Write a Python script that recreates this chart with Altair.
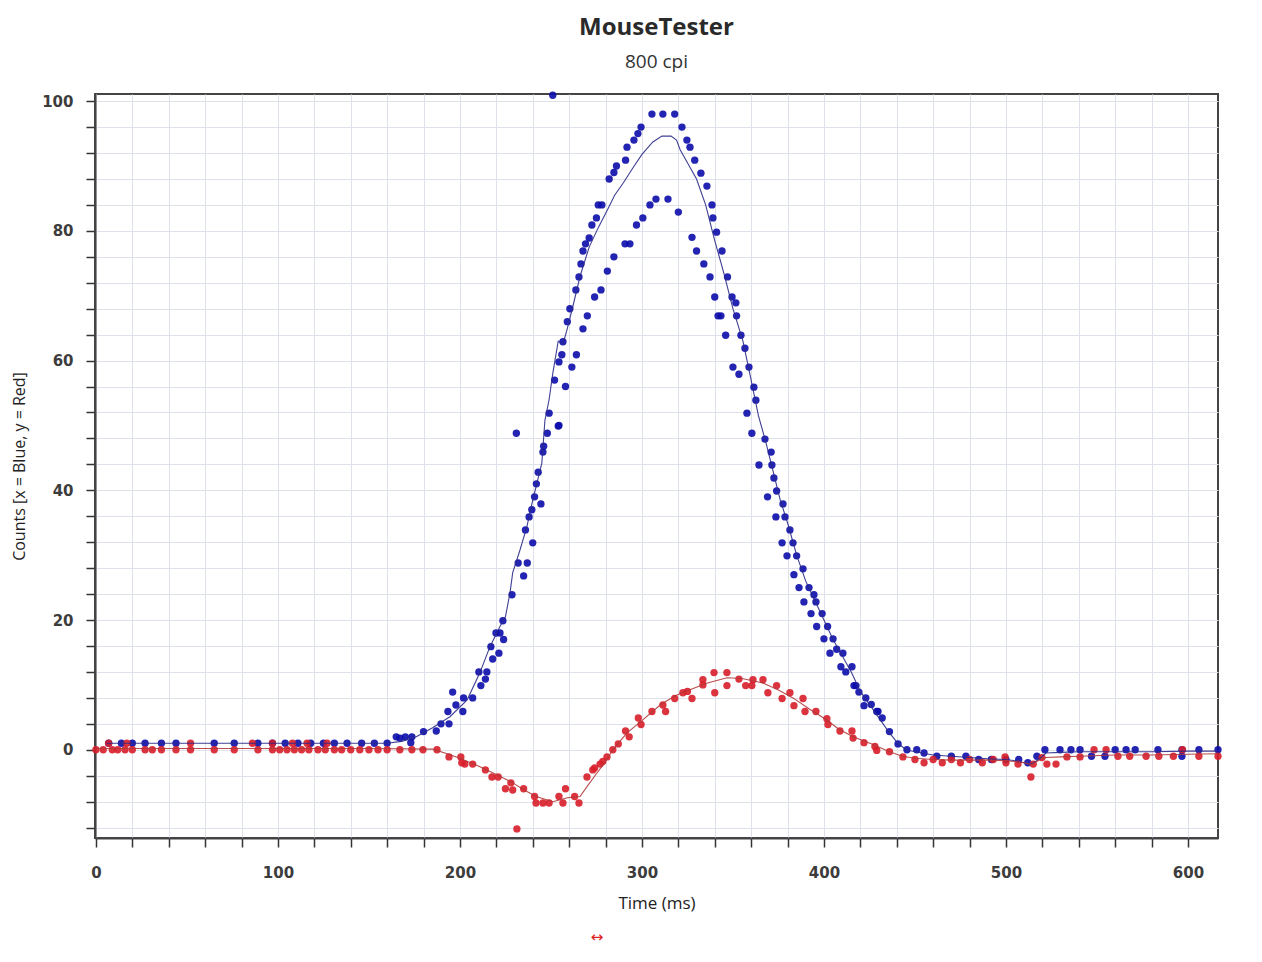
import altair as alt
import pandas as pd

# ---- data (time in ms, counts) ----
blue_points = [
    (7, 1), (14, 1), (20, 1), (27, 1), (36, 1), (44, 1), (65, 1), (76, 1), (89, 1), (97, 1),
    (104, 1), (111, 1), (118, 1), (125, 1), (131, 1), (138, 1), (146, 1), (153, 1), (160, 1),
    (165, 2), (170, 2), (167, 1.8), (173.6, 2), (173, 1.1), (180, 2.8), (187, 2.9), (189.6, 4),
    (194, 4), (193.4, 5.9), (197.8, 6.9), (196, 8.9), (201.6, 5.9), (202, 8), (207, 8),
    (211.5, 9.9), (210.4, 12), (214.8, 12), (214, 10.9), (218, 14), (217, 15.9), (221.4, 14.9),
    (219.8, 18), (222, 18), (224, 17), (223.6, 19.9), (228.6, 23.9), (232, 28.8), (237, 28.8),
    (235, 26.8), (236, 33.9), (240, 31.9), (238, 35.9), (239.5, 37), (241, 39), (244.5, 37.9),
    (242, 41), (243, 42.8), (245.6, 45.9), (246, 46.8), (248, 48.8), (254, 49.9), (231, 48.8),
    (249, 51.9), (254.4, 50), (252, 57), (258, 56), (261.5, 59), (256, 60.9), (256.6, 62.9),
    (254.4, 59.8), (264, 60.9), (259, 66), (267.6, 64.9), (260.4, 68), (270, 66.9), (263.7, 70.9),
    (265.4, 72.9), (266.5, 74.9), (274, 69.8), (277.5, 70.9), (267.6, 76.9), (269, 78), (271, 78.9),
    (272.5, 80.9), (275, 82), (276, 84), (278, 84), (281, 73.8), (284.6, 76), (290.7, 78),
    (293.4, 78), (282, 88), (284.6, 89), (286, 90), (291, 90.9), (291.8, 92.9), (295.6, 94),
    (297.8, 95), (299.5, 96), (297, 80.9), (300.5, 82), (304.4, 84), (307.7, 84.9), (314.3, 84.9),
    (320, 82.9), (305.5, 98), (311.5, 98), (318, 98), (322, 96), (324.7, 94), (326.4, 92.9),
    (329, 90.9), (332.4, 88.9), (335.7, 86.9), (338.5, 84), (339, 82), (341, 79.8), (327.5, 79),
    (330, 76.9), (334, 74.9), (337.4, 72.9), (340, 69.8), (341.8, 66.9), (251, 100.9),
    (344, 76.9), (347, 72.9), (349.5, 69.8), (351.6, 68.9), (352, 66.9), (354.4, 63.9),
    (356.6, 61.9), (358.8, 59), (361.5, 55.9), (362.6, 53.9), (343.4, 66.9), (346, 63.9),
    (350, 59), (353.3, 57.9), (357.7, 51.9),
    (360.4, 48.8), (364.3, 43.9), (369, 39), (373.6, 35.9), (377, 31.9), (379.7, 29.9),
    (383.5, 27), (386.3, 25), (389, 22.8), (392.9, 21), (396, 19), (400, 17.1),
    (367.6, 47.9), (371, 45.9), (371.4, 43.9), (372.5, 41.9), (374, 39.9), (377.5, 37.9),
    (378.6, 35.9), (381.3, 33.9), (383, 31.9), (385, 29.9), (388.5, 27.9), (391.8, 25),
    (394.5, 23.9), (395.6, 22.8), (399, 21), (402, 19), (405, 17.1),
    (410.4, 14.9), (415.4, 12.8), (417.6, 9.9), (423, 8), (429.7, 5.9), (432, 4.9), (436, 2.8),
    (440.7, 0.9), (445.6, 0), (451, 0),
    (403.3, 14.9), (409.3, 12.8), (416.5, 9.9), (419.2, 8.9), (422, 6.8), (429, 5.9), (426, 7),
    (412, 12), (407, 15.5),
    (455, -0.5), (462, -1), (470, -1), (478, -1), (485, -1.5), (492, -1.5), (500, -1.5),
    (507, -1.5), (512, -2), (517, -1), (521.4, 0), (529.7, 0), (535.7, 0), (540.7, 0), (547, -1),
    (554.4, -1), (560, 0), (566, 0), (571, 0), (583.5, 0), (596.7, -1), (596.7, 0), (606, 0),
    (616.5, 0),
]

red_points = [
    (0, 0), (4, 0), (9, 0), (12, 0), (16, 0), (20, 0), (27, 0), (31, 0), (36, 0), (44, 0),
    (52, 0), (65, 0), (76, 0), (89, 0), (97, 0), (101, 0), (105, 0), (109, 0), (113, 0),
    (117, 0), (122, 0), (126, 0), (131, 0), (135, 0), (140, 0), (145, 0), (150, 0), (155, 0),
    (160, 0), (167, 0), (173.6, 0), (179.7, 0), (187.4, 0), (7, 1), (17, 1), (52, 1), (86, 1),
    (97, 1), (108, 1), (116, 1), (127, 1),
    (194, -1.1), (200.5, -1.1), (201, -2), (202.7, -2.2), (207, -2.2), (214, -3.1),
    (217.6, -4.2), (221, -4.2), (225, -6), (228, -5.1), (229, -6.2), (235, -6), (241, -7.2),
    (241.8, -8.2), (245.6, -8.2), (249, -8.2), (254.4, -7.2), (256.6, -8.2), (258, -6),
    (263, -7.2), (265.4, -8.2), (231.3, -12.2),
    (269.8, -4.2), (273, -3.1), (274, -2.8), (277, -2.2), (278.5, -1.8), (280.8, -1.1), (284, 0),
    (287, 0.9), (291, 2.9), (293, 2), (298, 4.9), (299.5, 3.9), (305.5, 5.9), (311.5, 6.9),
    (313, 5.9), (318, 7.9), (322.5, 8.8), (325, 9), (327.5, 7.9), (333.5, 10.8), (333.5, 10),
    (339.6, 11.9), (340, 8.8), (346.7, 11.9), (346.7, 9.9), (353.3, 10.9), (357, 9.9),
    (360.4, 9.9), (361, 10.8), (366.5, 10.8), (369.2, 8.8), (374, 9.9), (377, 7.9), (381.3, 8.8),
    (383.5, 6.8), (388.5, 7.9), (389.6, 5.9), (395.6, 5.9), (401.6, 4.8), (402.2, 3.9),
    (408.8, 2.9), (415.4, 2.9), (416, 1.8), (422, 1.1), (428, 0.5), (429, -0.1), (436, -0.3),
    (443.4, -1.1),
    (450, -1.5), (455, -2), (460, -1.5), (465, -2), (470, -1.5), (475, -2), (480, -1.5),
    (487, -2), (493, -1.5), (499.5, -1.1), (500, -2), (506.6, -2.2), (513.7, -4.2), (515, -2.2),
    (519.8, -1.2), (522.5, -2.2), (527.5, -2.2), (533.5, -1.1), (540.7, -1.1), (548.4, 0),
    (555, 0), (561.5, -1), (568, -1), (577, -1), (584, -1), (592, -1), (597, 0), (606, -1),
    (616.5, -1),
]

blue_line = [
    (6, 1), (20, 1), (40, 1), (60, 1), (80, 1), (100, 1), (120, 1), (140, 1), (160, 1),
    (168, 1.3), (176, 2), (185, 3.4), (194.5, 5.1), (204, 7.7), (211, 11.9), (216.5, 15.9),
    (222, 19), (225, 20.5), (227.5, 24.2), (229, 27.3), (233, 30.8), (236.8, 34.4), (240, 38.5),
    (245, 44.2), (246.7, 50.8), (249, 54), (251, 58), (254, 63), (256.5, 62.5), (258.6, 64.5),
    (262, 68.3), (266, 73), (271, 77.5), (276, 80.5), (281, 83.2), (285, 85.5), (290, 87.5),
    (295, 89.7), (300, 91.8), (306, 93.7), (311, 94.6), (316, 94.6), (319, 94), (321, 92.5),
    (325, 90.5), (330, 88), (335, 84), (340, 78.5), (345, 73.5), (350, 68), (355.5, 63),
    (360, 57), (364, 51.5), (368, 47.5), (372, 43), (376, 38.5), (380, 35), (385, 30),
    (390, 26), (395, 23), (400, 20), (405, 17), (410, 14.5), (415, 12), (420, 9), (425, 7),
    (430, 5), (435, 3), (440, 1.2), (445, 0), (450, -0.3), (460, -0.8), (470, -1), (480, -1.2),
    (490, -1.4), (500, -1.5), (505, -1.7), (510, -2), (514, -2.2), (518, -1.5), (522, -0.5),
    (530, -0.4), (540, -0.3), (560, -0.3), (580, -0.3), (600, -0.2), (616, -0.2),
]

red_line = [
    (0, 0.2), (50, 0.2), (100, 0.2), (150, 0.2), (185, 0.1), (193, -0.6), (200, -1.3),
    (211, -2.6), (220, -3.8), (229, -5.1), (236, -6.3), (242, -7.2), (251, -8), (259, -7.4),
    (266, -7.2), (270, -5.6), (275, -3.7), (280, -1.8), (284, 0), (291.8, 2.6), (300, 4.5),
    (310, 6.9), (318, 8.3), (326, 9.2), (336, 10.3), (346.7, 11.1), (355, 11), (366.5, 10.3),
    (375, 9.2), (383, 8), (392, 6.3), (401.6, 4.6), (408, 3.2), (416, 2), (427, 0.8),
    (435, -0.2), (443, -1), (450, -1.3), (460, -1.5), (470, -1.6), (480, -1.6), (490, -1.6),
    (500, -1.7), (505, -1.8), (510, -2), (514, -2.3), (518, -1.6), (522, -1.2), (530, -1.1),
    (540, -1), (560, -0.8), (580, -0.8), (600, -0.7), (616, -0.6),
]

x_ticks = list(range(0, 620, 20))
y_ticks = list(range(-12, 101, 4))

# ---- tables ----
pts = pd.DataFrame(
    [{"t": t, "v": v, "s": "x"} for t, v in blue_points]
    + [{"t": t, "v": v, "s": "y"} for t, v in red_points]
)
lines = pd.DataFrame(
    [{"t": t, "v": v, "s": "x"} for t, v in blue_line]
    + [{"t": t, "v": v, "s": "y"} for t, v in red_line]
)

FONT = "DejaVu Sans"
xscale = alt.Scale(domain=[-0.5, 616.5], nice=False, zero=False)
yscale = alt.Scale(domain=[-13.6, 101.1], nice=False, zero=False)

xaxis = alt.Axis(
    title="Time (ms)", values=x_ticks, tickCount=200, labelOverlap=False, format="d",
    labelExpr="datum.value % 100 == 0 ? datum.label : ''",
    grid=True, gridColor="#dfe1ea", gridWidth=1,
    tickColor="#333", tickSize=9, tickWidth=1.5, domainColor="#444", domainWidth=2,
    labelFont=FONT, labelFontSize=15, labelFontWeight="bold", labelColor="#3c3c3c",
    labelPadding=18, labelFlush=False,
    titleFont="Open Sans", titleFontSize=17, titleFontWeight="normal", titleColor="#222",
    titlePadding=15,
)
yaxis = alt.Axis(
    title="Counts [x = Blue, y = Red]", values=y_ticks, tickCount=200, labelOverlap=False,
    format="d",
    labelExpr="datum.value % 20 == 0 ? datum.label : ''",
    grid=True, gridColor="#dfe1ea", gridWidth=1,
    tickColor="#333", tickSize=9, tickWidth=1.5, domainColor="#444", domainWidth=2,
    labelFont=FONT, labelFontSize=15, labelFontWeight="bold", labelColor="#3c3c3c",
    labelPadding=13, labelFlush=False,
    titleFont="Open Sans", titleFontSize=16, titleFontWeight="normal", titleColor="#222",
    titlePadding=14,
)

color = alt.Color(
    "s:N",
    scale=alt.Scale(domain=["x", "y"], range=["#0c0cab", "#d81e2a"]),
    legend=None,
)
line_color = alt.Color(
    "s:N",
    scale=alt.Scale(domain=["x", "y"], range=["#2a2a8a", "#b03838"]),
    legend=None,
)

points = alt.Chart(pts).mark_circle(size=54, opacity=0.9).encode(
    x=alt.X("t:Q", scale=xscale, axis=xaxis),
    y=alt.Y("v:Q", scale=yscale, axis=yaxis),
    color=color,
    order=alt.Order("s:N"),
)

curves = alt.Chart(lines).mark_line(strokeWidth=1.1, opacity=0.9).encode(
    x=alt.X("t:Q", scale=xscale),
    y=alt.Y("v:Q", scale=yscale),
    color=line_color,
    detail="s:N",
)

arrow = alt.Chart(pd.DataFrame({"c": ["↔"]})).mark_text(
    color="#e02020", fontSize=15, font=FONT
).encode(text="c:N", x=alt.value(502), y=alt.value(843))

chart = (
    alt.layer(points, curves, arrow)
    .resolve_scale(color="independent")
    .properties(
        width=1123,
        height=744,
        autosize="none",
        padding={"left": 87, "top": 86, "right": 30, "bottom": 110},
        title=alt.TitleParams(
            "MouseTester",
            subtitle="800 cpi",
            font="Open Sans",
            fontSize=24,
            fontWeight="bold",
            color="#2a2a2a",
            subtitleFont="Open Sans",
            subtitleFontSize=19,
            subtitleColor="#333",
            subtitlePadding=13,
            anchor="middle",
            frame="group",
            offset=20,
        ),
    )
    .configure_view(stroke="#444", strokeWidth=2)
)

chart.save("out.html", embed_options={"renderer": "svg", "actions": False})
